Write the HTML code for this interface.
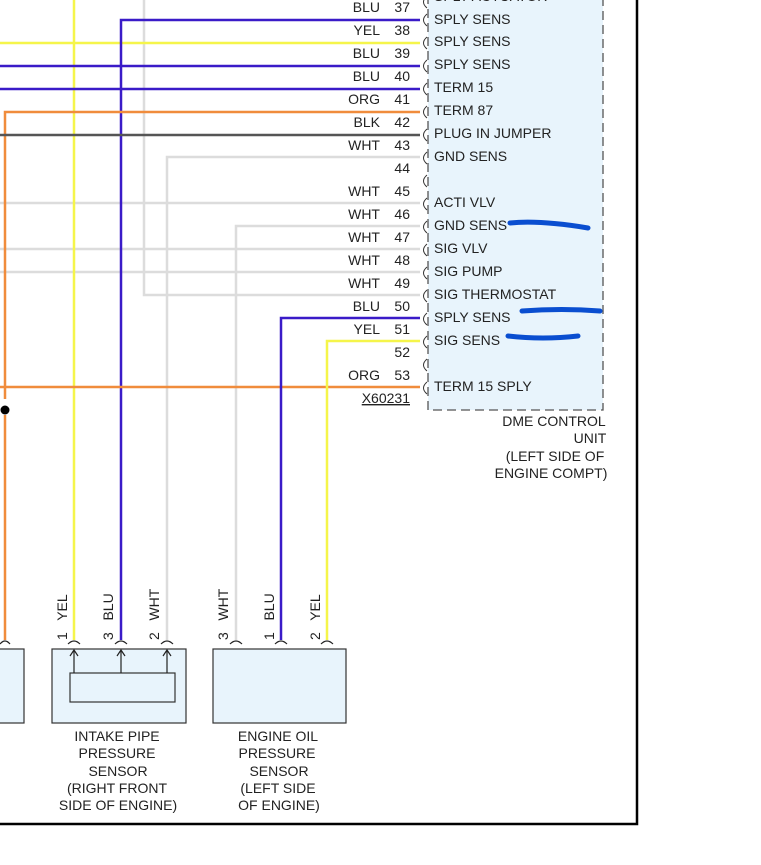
<!DOCTYPE html>
<html><head><meta charset="utf-8"><style>
body{margin:0;background:#fff;}
svg text{font-family:"Liberation Sans",sans-serif;font-size:14px;fill:#222;}
</style></head><body>
<svg width="761" height="860" viewBox="0 0 761 860" xmlns="http://www.w3.org/2000/svg">
<rect x="428" y="-10" width="175" height="420" fill="#e8f4fc" stroke="#555" stroke-width="1.3" stroke-dasharray="9,5"/>
<g fill="none" stroke-width="2.5">
<path d="M144 0V295H420" stroke="#dcdcdc"/>
<path d="M167 640V157H420" stroke="#dcdcdc"/>
<path d="M236 640V226H420" stroke="#dcdcdc"/>
<path d="M0 203H420M0 249H420M0 272H420" stroke="#dcdcdc"/>
<path d="M74 0V640" stroke="#f5f54a"/>
<path d="M0 43H420" stroke="#f5f54a"/>
<path d="M121 640V20H420" stroke="#3a1bc8"/>
<path d="M0 66H420M0 89H420" stroke="#3a1bc8"/>
<path d="M5 399V112H420M5 415V640" stroke="#f08c3c"/>
<path d="M0 387H420" stroke="#f08c3c"/>
<path d="M0 135H420" stroke="#555"/>
<path d="M281 640V318H420" stroke="#3a1bc8"/>
<path d="M327 640V341H420" stroke="#f5f54a"/>
</g>
<circle cx="5" cy="410" r="4.5" fill="#000"/>
<g fill="none" stroke="#333" stroke-width="1">
<path d="M427 -4q-7 6 0 12M427 14q-7 6 0 12M427 37q-7 6 0 12M427 60q-7 6 0 12M427 83q-7 6 0 12M427 106q-7 6 0 12M427 129q-7 6 0 12M427 152q-7 6 0 12M427 175q-7 6 0 12M427 198q-7 6 0 12M427 221q-7 6 0 12M427 244q-7 6 0 12M427 267q-7 6 0 12M427 290q-7 6 0 12M427 313q-7 6 0 12M427 336q-7 6 0 12M427 359q-7 6 0 12M427 382q-7 6 0 12"/>
</g>
<g text-anchor="end">
<text x="380" y="12">BLU</text><text x="410" y="12">37</text>
<text x="380" y="35">YEL</text><text x="410" y="35">38</text>
<text x="380" y="58">BLU</text><text x="410" y="58">39</text>
<text x="380" y="81">BLU</text><text x="410" y="81">40</text>
<text x="380" y="104">ORG</text><text x="410" y="104">41</text>
<text x="380" y="127">BLK</text><text x="410" y="127">42</text>
<text x="380" y="150">WHT</text><text x="410" y="150">43</text>
<text x="410" y="173">44</text>
<text x="380" y="196">WHT</text><text x="410" y="196">45</text>
<text x="380" y="219">WHT</text><text x="410" y="219">46</text>
<text x="380" y="242">WHT</text><text x="410" y="242">47</text>
<text x="380" y="265">WHT</text><text x="410" y="265">48</text>
<text x="380" y="288">WHT</text><text x="410" y="288">49</text>
<text x="380" y="311">BLU</text><text x="410" y="311">50</text>
<text x="380" y="334">YEL</text><text x="410" y="334">51</text>
<text x="410" y="357">52</text>
<text x="380" y="380">ORG</text><text x="410" y="380">53</text>
<text x="410" y="403" text-decoration="underline">X60231</text>
</g>
<g>
<text x="434" y="1">SPLY ACTUATOR</text>
<text x="434" y="24">SPLY SENS</text>
<text x="434" y="46">SPLY SENS</text>
<text x="434" y="69">SPLY SENS</text>
<text x="434" y="92">TERM 15</text>
<text x="434" y="115">TERM 87</text>
<text x="434" y="138">PLUG IN JUMPER</text>
<text x="434" y="161">GND SENS</text>
<text x="434" y="207">ACTI VLV</text>
<text x="434" y="230">GND SENS</text>
<text x="434" y="253">SIG VLV</text>
<text x="434" y="276">SIG PUMP</text>
<text x="434" y="299">SIG THERMOSTAT</text>
<text x="434" y="322">SPLY SENS</text>
<text x="434" y="345">SIG SENS</text>
<text x="434" y="391">TERM 15 SPLY</text>
</g>
<g text-anchor="middle">
<text x="554" y="426">DME CONTROL</text>
<text x="590" y="443">UNIT</text>
<text x="555" y="461">(LEFT SIDE OF</text>
<text x="551" y="478">ENGINE COMPT)</text>
<text x="117" y="741">INTAKE PIPE</text>
<text x="117" y="758">PRESSURE</text>
<text x="118" y="776">SENSOR</text>
<text x="117" y="793">(RIGHT FRONT</text>
<text x="118" y="810">SIDE OF ENGINE)</text>
<text x="278" y="741">ENGINE OIL</text>
<text x="277" y="758">PRESSURE</text>
<text x="279" y="776">SENSOR</text>
<text x="278" y="793">(LEFT SIDE</text>
<text x="279" y="810">OF ENGINE)</text>
</g>
<path d="M510 223q30 -3 78 5M522 311q40 -3 78 0M508 336q35 4 70 0" stroke="#0a4ed0" stroke-width="5" fill="none" stroke-linecap="round"/>
<g fill="#e8f4fc" stroke="#333" stroke-width="1.2">
<rect x="-5" y="649" width="29" height="74"/>
<rect x="52" y="649" width="134" height="74"/>
<rect x="70" y="673" width="105" height="29"/>
<rect x="213" y="649" width="133" height="74"/>
</g>
<g fill="none" stroke="#222" stroke-width="1.2">
<path d="M74 673V650M70 656l4-6 4 6M121 673V650M117 656l4-6 4 6M167 673V650M163 656l4-6 4 6"/>
<path d="M0 644q5-6 10 0M68 644q6-6 12 0M115 644q6-6 12 0M161 644q6-6 12 0M230 644q6-6 12 0M275 644q6-6 12 0M321 644q6-6 12 0"/>
</g>
<g font-size="13.5">
<text transform="translate(67,640) rotate(-90)" xml:space="preserve">1   YEL</text>
<text transform="translate(113,640) rotate(-90)" xml:space="preserve">3   BLU</text>
<text transform="translate(159,640) rotate(-90)" xml:space="preserve">2   WHT</text>
<text transform="translate(228,640) rotate(-90)" xml:space="preserve">3   WHT</text>
<text transform="translate(274,640) rotate(-90)" xml:space="preserve">1   BLU</text>
<text transform="translate(320,640) rotate(-90)" xml:space="preserve">2   YEL</text>
</g>
<path d="M637 0V824H0" fill="none" stroke="#000" stroke-width="2.5"/>
</svg>
</body></html>
